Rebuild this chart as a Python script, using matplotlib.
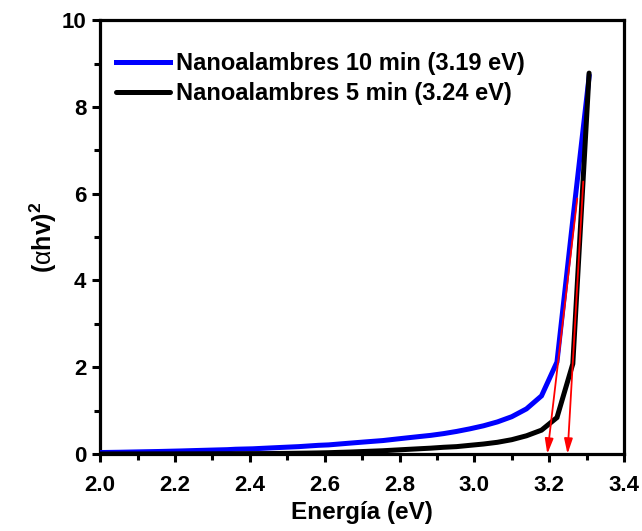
import numpy as np
import matplotlib
matplotlib.use("Agg")
import matplotlib.pyplot as plt
from matplotlib.ticker import MultipleLocator

# Wavelength grid (nm) of the measurement, converted to photon energy (eV)
wavelength_nm = [375, 380, 385, 390, 395, 400, 405, 410, 415, 420, 425, 430, 435,
                 440, 445, 450, 455, 460, 465, 470, 475, 480, 485, 490, 495, 500,
                 505, 510, 515, 520, 525, 530, 535, 540, 545, 550, 555, 560, 565,
                 570, 575, 580, 585, 590, 595, 600, 605, 610, 615, 620]

nw10_values = [8.70, 5.40, 2.12, 1.34, 1.04, 0.86, 0.74, 0.65, 0.58, 0.52, 0.47, 0.43, 0.40,
               0.37, 0.34, 0.31, 0.29, 0.27, 0.25, 0.23, 0.21, 0.20, 0.185, 0.17, 0.16, 0.15,
               0.14, 0.13, 0.12, 0.115, 0.11, 0.10, 0.095, 0.09, 0.085, 0.08, 0.075, 0.07, 0.066,
               0.062, 0.058, 0.055, 0.052, 0.049, 0.046, 0.043, 0.040, 0.038, 0.036, 0.034]

nw5_values = [8.78, 2.08, 0.84, 0.55, 0.42, 0.33, 0.27, 0.23, 0.20, 0.17, 0.155, 0.135, 0.12,
              0.105, 0.09, 0.075, 0.065, 0.055, 0.045, 0.038, 0.030, 0.025, 0.021, 0.018, 0.015, 0.013,
              0.011, 0.010, 0.009, 0.008, 0.007, 0.006, 0.006, 0.005, 0.005, 0.004, 0.004, 0.004, 0.003,
              0.003, 0.003, 0.003, 0.002, 0.002, 0.002, 0.002, 0.002, 0.002, 0.001, 0.001]

series_labels = ["Nanoalambres 10 min (3.19 eV)", "Nanoalambres 5 min (3.24 eV)"]
series_colors = ["#0000ff", "#000000"]

# Tauc extrapolation lines: (top point) -> band-gap intercept on the energy axis
tangent_top_x = [3.275, 3.291]
tangent_top_y = [5.89, 6.28]
gap_energy = [3.195, 3.249]

energy = [1240.0 / w for w in wavelength_nm]

plt.rcParams['font.family'] = ['Liberation Sans', 'DejaVu Sans']
plt.rcParams['mathtext.fontset'] = 'custom'
plt.rcParams['mathtext.rm'] = 'Liberation Sans:bold'
plt.rcParams['mathtext.bf'] = 'Liberation Sans:bold'
plt.rcParams['mathtext.sf'] = 'Liberation Sans'
plt.rcParams['mathtext.it'] = 'Liberation Sans:bold:italic'

fig = plt.figure(figsize=(6.42, 5.31), dpi=100)
ax = fig.add_axes([0.156, 0.145, 0.816, 0.817])

ax.plot(energy, nw10_values, color=series_colors[0], lw=3.6, label=series_labels[0],
        solid_joinstyle='miter', zorder=3)
ax.plot(energy, nw5_values, color=series_colors[1], lw=3.6, label=series_labels[1],
        solid_joinstyle='miter', zorder=4, solid_capstyle='round')

for tx, ty, g in zip(tangent_top_x, tangent_top_y, gap_energy):
    ax.annotate("", xy=(g, 0), xytext=(tx, ty),
                arrowprops=dict(arrowstyle="-|>,head_length=0.9,head_width=0.25",
                                color="red", lw=1.3, shrinkA=0, shrinkB=0),
                zorder=6)

ax.set_xlim(2.0, 3.4)
ax.set_ylim(0, 10)
ax.xaxis.set_major_locator(MultipleLocator(0.2))
ax.xaxis.set_minor_locator(MultipleLocator(0.1))
ax.yaxis.set_major_locator(MultipleLocator(2))
ax.yaxis.set_minor_locator(MultipleLocator(1))
ax.xaxis.set_major_formatter(matplotlib.ticker.FormatStrFormatter('%.1f'))

for s in ax.spines.values():
    s.set_linewidth(2.3)
ax.tick_params(which='major', direction='out', length=6, width=2.2, labelsize=16,
               top=False, right=False)
ax.tick_params(axis='x', which='major', pad=9)
ax.tick_params(axis='y', which='major', pad=4)
ax.tick_params(which='minor', direction='out', length=4, width=2.2, top=False, right=False)
for lab in ax.get_xticklabels() + ax.get_yticklabels():
    lab.set_fontweight('bold')

ax.set_xlabel("Energía (eV)", fontsize=17.5, fontweight='bold', labelpad=4)
ax.set_ylabel(r"$\mathrm{(}\mathsf{\alpha}\mathrm{hv)}^{2}$", fontsize=18, labelpad=2)

leg = ax.legend(loc='upper left', bbox_to_anchor=(-0.01, 0.975), frameon=False,
                handlelength=2.3, handletextpad=0.25, labelspacing=0.28,
                prop={'weight': 'bold', 'size': 17}, borderaxespad=0.5)

fig.savefig("out.png", dpi=100)
